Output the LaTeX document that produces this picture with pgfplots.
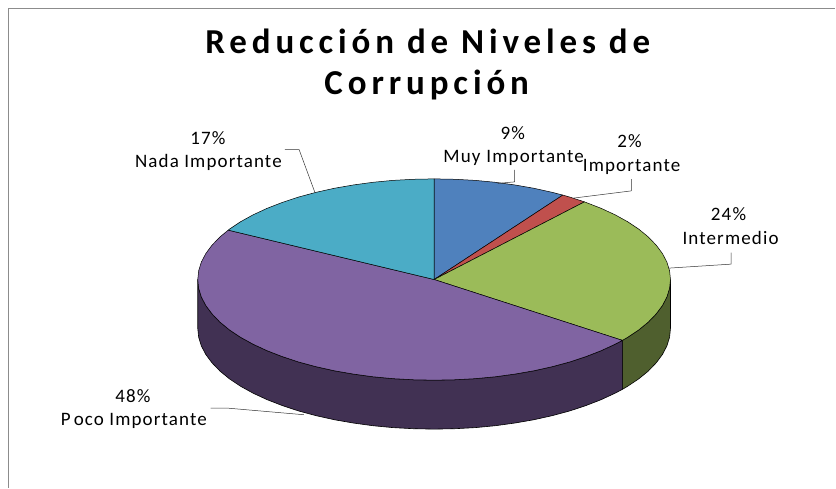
\documentclass[border=0pt]{standalone}
\usepackage{pgfplots}
\pgfplotsset{compat=1.18}
\usepackage{fontspec}
\newfontfamily\labfont[LetterSpace=6]{Carlito}
\newfontfamily\titfont[LetterSpace=14]{Carlito}
\definecolor{cblue}{HTML}{4F81BD}
\definecolor{cred}{HTML}{C0504D}
\definecolor{cgreen}{HTML}{9BBB59}
\definecolor{cpurple}{HTML}{8064A2}
\definecolor{ccyan}{HTML}{4BACC6}
\definecolor{dgreen}{HTML}{4F5F2E}
\definecolor{dpurple}{HTML}{413153}
\definecolor{framec}{HTML}{8C8C8C}
\tikzset{
  lab/.style={font=\labfont\fontsize{19}{22}\selectfont, anchor=base, text=black, inner sep=0pt},
  tit/.style={font=\titfont\bfseries\fontsize{35}{38}\selectfont, anchor=base, text=black, inner sep=0pt},
}
\begin{document}
\begin{tikzpicture}
\begin{axis}[
  scale only axis, width=836pt, height=488pt,
  xmin=0, xmax=836, ymin=0, ymax=488, y dir=reverse,
  hide axis, clip=false, no markers,
  every axis plot/.append style={line join=round},
]
% extent of the picture
\addplot[draw=none] coordinates {(0,0) (836,488)};
% frame
\addplot[color=framec, line width=1.1pt] coordinates {(8.7,488) (8.7,8.7) (836,8.7)};
% walls
\addplot[fill=dgreen, draw=black, line width=0.6pt] coordinates {
(670.9,279.7)(670.0,288.5)(667.3,297.2)(662.8,305.8)(656.6,314.1)(648.7,322.3)(639.2,330.1)(628.1,337.5)(622.8,340.6)
(622.8,389.6)(628.1,386.5)(639.2,379.1)(648.7,371.3)(656.6,363.1)(662.8,354.8)(667.3,346.2)(670.0,337.5)(670.9,328.7)(670.9,279.7)};
\addplot[fill=dpurple, draw=black, line width=0.6pt] coordinates {
(622.8,340.6)(615.6,344.4)(601.6,350.9)(586.4,356.8)(570.1,362.2)(552.7,366.9)(534.3,371.0)(515.3,374.3)(495.6,377.0)(475.5,378.9)(455.0,380.0)(434.4,380.4)
(413.8,380.0)(393.3,378.9)(373.2,377.0)(353.5,374.3)(334.5,371.0)(316.1,366.9)(298.7,362.2)(282.4,356.8)(267.2,350.9)(253.2,344.4)(240.7,337.5)(229.6,330.1)(220.1,322.3)(212.2,314.1)(206.0,305.8)(201.5,297.2)(198.8,288.5)(197.9,279.7)
(197.9,328.7)(198.8,337.5)(201.5,346.2)(206.0,354.8)(212.2,363.1)(220.1,371.3)(229.6,379.1)(240.7,386.5)(253.2,393.4)(267.2,399.9)(282.4,405.8)(298.7,411.2)(316.1,415.9)(334.5,420.0)(353.5,423.3)(373.2,426.0)(393.3,427.9)(413.8,429.0)
(434.4,429.4)(455.0,429.0)(475.5,427.9)(495.6,426.0)(515.3,423.3)(534.3,420.0)(552.7,415.9)(570.1,411.2)(586.4,405.8)(601.6,399.9)(615.6,393.4)(622.8,389.6)(622.8,340.6)};
% top sectors
\addplot[fill=cblue, draw=black, line width=0.5pt] coordinates {
(434.4,279.7)(434.4,179.0)(455.0,179.4)(475.5,180.5)(495.6,182.4)(515.3,185.1)(534.3,188.4)(552.7,192.5)(563.2,195.2)(434.4,279.7)};
\addplot[fill=cred, draw=black, line width=0.5pt] coordinates {
(434.4,279.7)(563.2,195.2)(570.1,197.2)(584.8,202.0)(434.4,279.7)};
\addplot[fill=cgreen, draw=black, line width=0.5pt] coordinates {
(434.4,279.7)(584.8,202.0)(586.4,202.6)(601.6,208.5)(615.6,215.0)(628.1,221.9)(639.2,229.3)(648.7,237.1)(656.6,245.3)(662.8,253.6)(667.3,262.2)(670.0,270.9)(670.9,279.7)(670.0,288.5)(667.3,297.2)(662.8,305.8)(656.6,314.1)(648.7,322.3)(639.2,330.1)(628.1,337.5)(622.8,340.6)(434.4,279.7)};
\addplot[fill=cpurple, draw=black, line width=0.5pt] coordinates {
(434.4,279.7)(622.8,340.6)(615.6,344.4)(601.6,350.9)(586.4,356.8)(570.1,362.2)(552.7,366.9)(534.3,371.0)(515.3,374.3)(495.6,377.0)(475.5,378.9)(455.0,380.0)(434.4,380.4)
(413.8,380.0)(393.3,378.9)(373.2,377.0)(353.5,374.3)(334.5,371.0)(316.1,366.9)(298.7,362.2)(282.4,356.8)(267.2,350.9)(253.2,344.4)(240.7,337.5)(229.6,330.1)(220.1,322.3)(212.2,314.1)(206.0,305.8)(201.5,297.2)(198.8,288.5)(197.9,279.7)
(198.8,270.9)(201.5,262.2)(206.0,253.6)(212.2,245.3)(220.1,237.1)(228.4,230.3)(434.4,279.7)};
\addplot[fill=ccyan, draw=black, line width=0.5pt] coordinates {
(434.4,279.7)(228.4,230.3)(229.6,229.3)(240.7,221.9)(253.2,215.0)(267.2,208.5)(282.4,202.6)(298.7,197.2)(316.1,192.5)(334.5,188.4)(353.5,185.1)(373.2,182.4)(393.3,180.5)(413.8,179.4)(434.4,179.0)(434.4,279.7)};
% leader lines
\addplot[color=black!80, line width=0.5pt] coordinates {(515,170)(515,182)(498,183.5)};
\addplot[color=black!80, line width=0.5pt] coordinates {(631.7,179.3)(631.7,191)(573.3,198.3)};
\addplot[color=black!80, line width=0.5pt] coordinates {(731.7,252.7)(731.7,264.3)(669.3,268.3)};
\addplot[color=black!80, line width=0.5pt] coordinates {(285,149.7)(299.3,149.7)(315,192.3)};
\addplot[color=black!80, line width=0.5pt] coordinates {(210.7,408.3)(226.7,408.3)(304,415)};
% text
\node[tit] at (axis cs:428,53.3) {Reducción de Niveles de};
\node[tit] at (axis cs:427,95) {Corrupción};
\node[lab] at (axis cs:208,144.3) {17\%};
\node[lab] at (axis cs:208.5,167.7) {Nada Importante};
\node[lab] at (axis cs:513,139.3) {9\%};
\node[lab] at (axis cs:514,162.7) {Muy\kern6pt Importante};
\node[lab] at (axis cs:630,147.7) {2\%};
\node[lab] at (axis cs:632,171.3) {Importante};
\node[lab] at (axis cs:729,221) {24\%};
\node[lab] at (axis cs:731,244.3) {Intermedio};
\node[lab] at (axis cs:133,402.3) {48\%};
\node[lab] at (axis cs:134,425.3) {P\kern3pt oco Importante};
\end{axis}
\end{tikzpicture}
\end{document}
